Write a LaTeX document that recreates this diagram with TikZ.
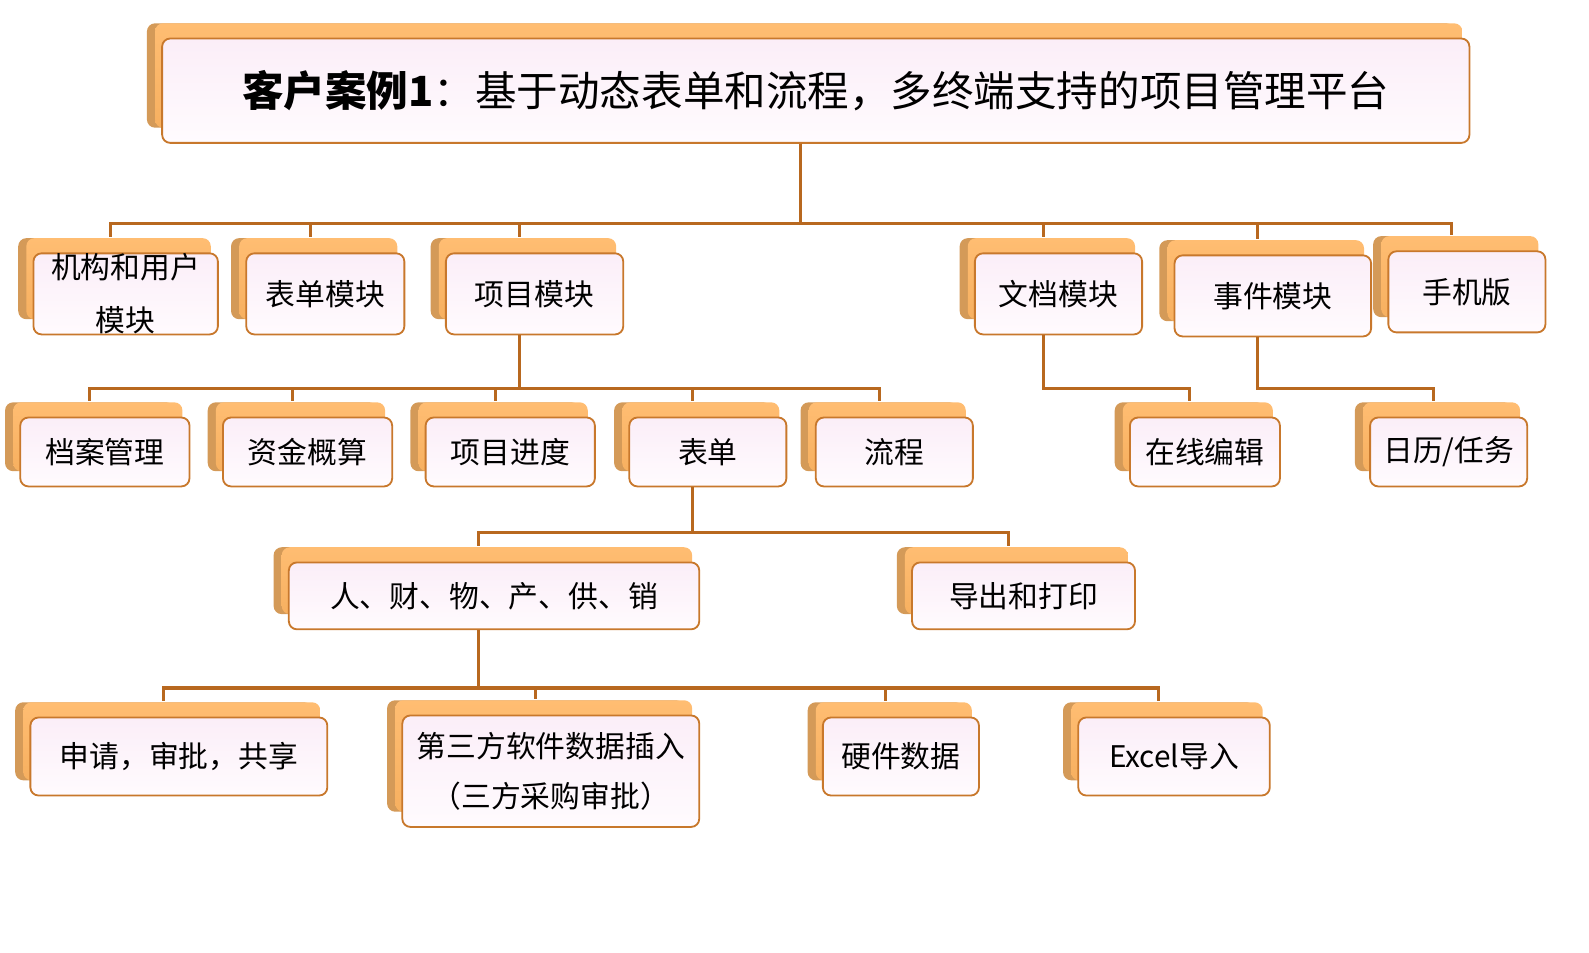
\documentclass[tikz,border=0pt]{standalone}
\usepackage{fontspec}
\setmainfont{Noto Sans CJK SC}
\usetikzlibrary{shadows}
\definecolor{cardtop}{HTML}{FBEEF8}
\definecolor{cardbot}{HTML}{FFFBFE}
\definecolor{cardline}{HTML}{C8782C}
\definecolor{slabtop}{HTML}{FFBD72}
\definecolor{slabbot}{HTML}{F7B060}
\definecolor{slabedge}{HTML}{D49A58}
\definecolor{linkcolor}{HTML}{B8681F}
\tikzset{
    card/.style 2 args={
        rounded corners=4pt,
        draw=cardline, line width=0.9pt,
        top color=cardtop, bottom color=cardbot,
        minimum width={#1*0.5pt}, minimum height={#2*0.5pt},
        inner sep=0pt, align=center,
        font=\fontsize{14.7}{24.5}\selectfont,
        % bevelled slab behind the card: dark left edge, orange face
        general shadow={fill=slabedge,
            shadow xshift=-7.5pt, shadow yshift=7.5pt},
        general shadow={top color=slabtop, bottom color=slabbot,
            shadow xshift=-3.5pt, shadow yshift=7.5pt},
    },
    link/.style={
        line width=1.5pt, draw=linkcolor,
    },
}

\begin{document}
\begin{tikzpicture}[x=0.5pt, y=-0.5pt]
\useasboundingbox (0,0) rectangle (1568,940);

% =============================================
% Title
% =============================================
\node[card={1290}{103}, font=\fontsize{20.5}{24}\selectfont] (title) at (805,89.5)
    {\textbf{客户案例1}：基于动态表单和流程，多终端支持的项目管理平台};

% =============================================
% Row 1: modules
% =============================================
\node[card={182}{80}, font=\fontsize{14.7}{26}\selectfont] (org) at (124,290) {机构和用户\\模块};
\node[card={156}{80}] (form)   at (321,290)    {表单模块};
\node[card={175}{80}] (proj)   at (527.5,290)  {项目模块};
\node[card={165}{80}] (doc)    at (1044.5,290) {文档模块};
\node[card={194}{80}] (event)  at (1256,292)   {事件模块};
\node[card={155}{80}] (mobile) at (1447.5,288) {手机版};

% =============================================
% Row 2
% =============================================
\node[card={167}{68}] (archive)  at (103.5,446)  {档案管理};
\node[card={167}{68}] (fund)     at (303.5,446)  {资金概算};
\node[card={167}{68}] (sched)    at (503.5,446)  {项目进度};
\node[card={155}{68}] (table)    at (698.5,446)  {表单};
\node[card={155}{68}] (flow)     at (882.5,446)  {流程};
\node[card={148}{68}] (online)   at (1189,446)   {在线编辑};
\node[card={155}{68}] (calendar) at (1429.5,446) {日历/任务};

% =============================================
% Row 3
% =============================================
\node[card={405}{66}] (hr)     at (487.5,588) {人、财、物、产、供、销};
\node[card={220}{66}] (export) at (1010,588)  {导出和打印};

% =============================================
% Row 4
% =============================================
\node[card={293}{77}]  (apply) at (176.5,746.5)  {申请，审批，共享};
\node[card={293}{110}] (third) at (543.5,761)    {第三方软件数据插入\\（三方采购审批）};
\node[card={154}{77}]  (hw)    at (889,746.5)    {硬件数据};
\node[card={189}{77}]  (excel) at (1158.5,746.5) {Excel导入};

% =============================================
% Connectors
% =============================================
\foreach \c in {org,form,proj,doc,event,mobile}
    \draw[link] ([xshift=-7.5pt]title.south) -- ++(0,79)
        -| ([xshift=-7.5pt,yshift=7.5pt]\c.north);

\foreach \c in {archive,fund,sched,table,flow}
    \draw[link] ([xshift=-7.5pt]proj.south) -- ++(0,52)
        -| ([xshift=-7.5pt,yshift=7.5pt]\c.north);

\draw[link] ([xshift=-7.5pt]doc.south) -- ++(0,52)
    -| ([xshift=-7.5pt,yshift=7.5pt]online.north);
\draw[link] ([xshift=-7.5pt]event.south) -- ++(0,50)
    -| ([xshift=-7.5pt,yshift=7.5pt]calendar.north);

\foreach \c in {hr,export}
    \draw[link] ([xshift=-7.5pt]table.south) -- ++(0,45)
        -| ([xshift=-7.5pt,yshift=7.5pt]\c.north);

\foreach \c in {apply,third,hw,excel}
    \draw[link] ([xshift=-7.5pt]hr.south) -- ++(0,57)
        -| ([xshift=-7.5pt,yshift=7.5pt]\c.north);

\end{tikzpicture}
\end{document}
